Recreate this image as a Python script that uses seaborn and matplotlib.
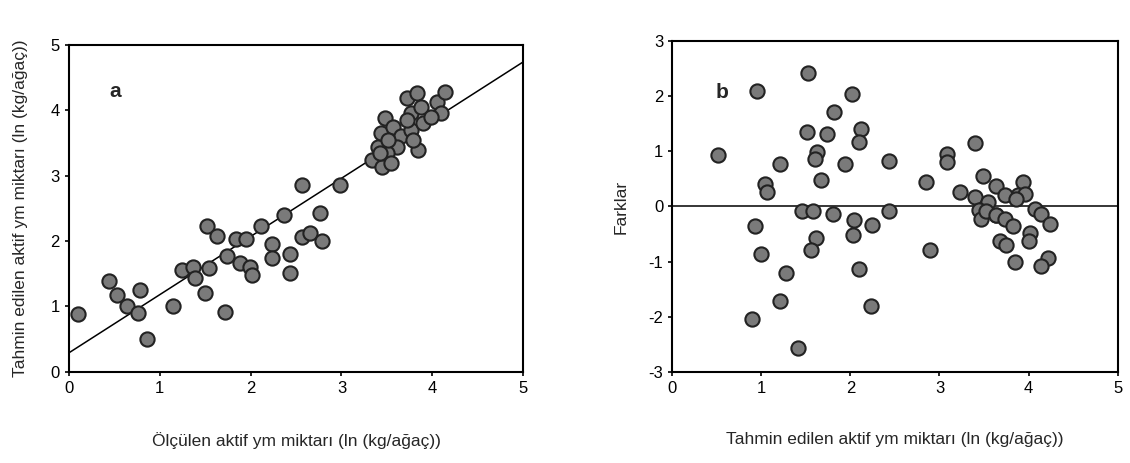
import numpy as np
import pandas as pd
import seaborn as sns
import matplotlib.pyplot as plt

# panel a: measured vs predicted (ln kg/tree)
olculen = [0.10, 0.44, 0.53, 0.64, 0.76, 0.78, 0.86, 1.15, 1.24, 1.37, 1.39, 1.50, 1.52,
           1.54, 1.63, 1.72, 1.74, 1.84, 1.88, 1.95, 1.99, 2.01, 2.11, 2.24, 2.24, 2.37,
           2.43, 2.43, 2.57, 2.57, 2.65, 2.76, 2.79, 2.98,
           3.34, 3.45, 3.40, 3.43, 3.48, 3.57, 3.72, 3.83, 3.76, 3.84, 3.65, 3.76, 3.90,
           4.05, 4.14, 4.09, 3.87, 3.61, 3.50, 3.72, 3.98, 3.79, 3.42, 3.51, 3.55]
tahmin = [0.89, 1.39, 1.18, 1.01, 0.90, 1.25, 0.50, 1.01, 1.56, 1.61, 1.44, 1.21, 2.23,
          1.59, 2.08, 0.92, 1.77, 2.03, 1.66, 2.03, 1.61, 1.48, 2.23, 1.96, 1.74, 2.40,
          1.80, 1.51, 2.86, 2.06, 2.12, 2.43, 2.00, 2.86,
          3.24, 3.13, 3.44, 3.65, 3.88, 3.75, 4.19, 4.27, 3.96, 3.39, 3.60, 3.70, 3.81,
          4.13, 4.28, 3.96, 4.05, 3.44, 3.35, 3.85, 3.90, 3.55, 3.35, 3.55, 3.20]
line_intercept = 0.29
line_slope = 0.89

# panel b: predicted vs residuals
tahmin_b = [1.52, 0.95, 2.02, 1.81, 1.51, 1.74, 2.12, 2.10, 0.51, 1.63, 1.60, 1.21, 1.94,
            2.43, 1.67, 1.04, 1.06, 1.46, 1.58, 1.80, 2.04, 2.24, 2.43, 0.93, 2.03, 1.61,
            1.56, 1.00, 2.10, 1.28, 1.21, 2.23, 0.89, 1.41,
            3.40, 3.09, 3.09, 2.85, 3.23, 3.49, 3.64, 3.94, 3.88, 3.40, 3.55, 3.74, 3.44,
            4.07, 4.14, 3.47, 3.63, 3.52, 3.64, 3.74, 3.83, 4.24, 4.02, 4.00, 3.68, 3.75,
            2.89, 3.85, 4.22, 4.14, 3.96, 3.86]
farklar = [2.43, 2.09, 2.05, 1.71, 1.35, 1.32, 1.41, 1.17, 0.94, 0.99, 0.86, 0.77, 0.77,
           0.83, 0.49, 0.40, 0.27, -0.09, -0.09, -0.13, -0.25, -0.34, -0.09, -0.36, -0.52,
           -0.58, -0.79, -0.86, -1.13, -1.21, -1.71, -1.80, -2.04, -2.56,
           1.15, 0.95, 0.81, 0.45, 0.27, 0.56, 0.38, 0.45, 0.20, 0.18, 0.09, 0.20, -0.07,
           -0.04, -0.13, -0.22, -0.16, -0.09, -0.16, -0.22, -0.36, -0.32, -0.49, -0.63,
           -0.63, -0.70, -0.79, -1.00, -0.94, -1.08, 0.23, 0.14]

df_a = pd.DataFrame({'x': olculen, 'y': tahmin})
df_b = pd.DataFrame({'x': tahmin_b, 'y': farklar})

sns.set_style('ticks')
plt.rcParams['font.family'] = ['Liberation Sans', 'DejaVu Sans']
plt.rcParams['axes.unicode_minus'] = False

fig = plt.figure(figsize=(11.3, 4.63), dpi=100)
ax1 = fig.add_axes([0.061, 0.197, 0.402, 0.706])
ax2 = fig.add_axes([0.595, 0.197, 0.394, 0.714])

dot = dict(s=105, color='#7a7a7a', edgecolor='#222222', linewidth=1.5, zorder=3)

sns.scatterplot(data=df_a, x='x', y='y', ax=ax1, **dot)
ax1.axline((0, line_intercept), slope=line_slope, color='black', lw=1.1, zorder=2)
ax1.set_xlim(0, 5)
ax1.set_ylim(0, 5)
ax1.set_xlabel('Ölçülen aktif ym miktarı (ln (kg/ağaç))', fontsize=12.5, labelpad=26)
ax1.set_ylabel('Tahmin edilen aktif ym miktarı (ln (kg/ağaç))', fontsize=12.5, labelpad=16)
ax1.text(0.44, 4.28, 'a', fontsize=15, fontweight='bold', va='center')

sns.scatterplot(data=df_b, x='x', y='y', ax=ax2, **dot)
ax2.axhline(0, color='black', lw=1.1, zorder=2)
ax2.set_xlim(0, 5)
ax2.set_ylim(-3, 3)
ax2.set_xlabel('Tahmin edilen aktif ym miktarı (ln (kg/ağaç))', fontsize=12.5, labelpad=26)
ax2.set_ylabel('Farklar', fontsize=12.5, labelpad=14)
ax2.text(0.48, 2.07, 'b', fontsize=15, fontweight='bold', va='center')

for ax in (ax1, ax2):
    for sp in ax.spines.values():
        sp.set_visible(True)
        sp.set_linewidth(1.5)
        sp.set_color('black')
    ax.tick_params(labelsize=12, length=3, width=1.2, colors='black')
    ax.set_xticks(range(0, 6))

plt.savefig('out.png', dpi=100)
